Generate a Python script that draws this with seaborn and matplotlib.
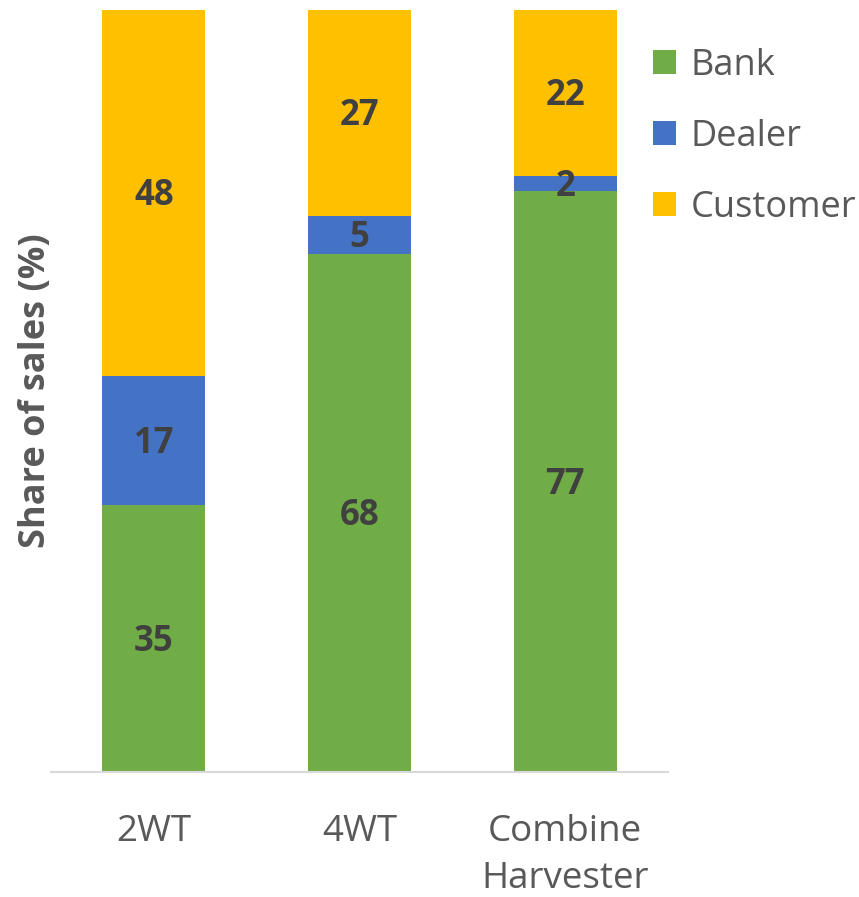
import matplotlib
matplotlib.use("Agg")
import matplotlib.pyplot as plt
import seaborn as sns
import numpy as np

categories = ["2WT", "4WT", "Combine\nHarvester"]
series_names = ["Bank", "Dealer", "Customer"]
# segment heights
bank = [35, 68, 76.2]
dealer = [17, 5, 2.0]
customer = [48, 27, 21.8]
# data labels as printed on the chart
bank_labels = ["35", "68", "77"]
dealer_labels = ["17", "5", "2"]
customer_labels = ["48", "27", "22"]
colors = ["#70AD47", "#4472C4", "#FFC000"]

sns.set_theme(style="white")
plt.rcParams['font.family'] = ['Open Sans', 'DejaVu Sans']

fig = plt.figure(figsize=(8.59, 8.97), dpi=100)
ax = fig.add_axes([51/859, 1-772/897, 617/859, 762/897])

LABEL_FS = 25
vals = [bank, dealer, customer]
labels = [bank_labels, dealer_labels, customer_labels]
bottom = np.zeros(len(categories))
for name, v, labs, c in zip(series_names, vals, labels, colors):
    ax.bar(categories, v, bottom=bottom, width=0.5, color=c, label=name,
           linewidth=0, edgecolor="none", zorder=2)
    for i, (val, b, t) in enumerate(zip(v, bottom, labs)):
        top = min(b + val, 100)
        ax.annotate(t, xy=(i, (b + top) / 2), xytext=(0, -LABEL_FS * 0.714 / 2),
                    textcoords="offset points", ha="center", va="baseline",
                    fontsize=LABEL_FS, fontweight="bold", color="#404040", zorder=3)
    bottom = bottom + np.array(v)

ax.set_ylim(0, 100)
ax.set_xlim(-0.5, 2.5)
ax.set_yticks([])
for s in ["top", "right", "left"]:
    ax.spines[s].set_visible(False)
ax.spines["bottom"].set_color("#D9D9D9")
ax.spines["bottom"].set_linewidth(1.5)
ax.tick_params(axis="x", length=0, pad=30, labelsize=26.5, labelcolor="#595959")
for lab in ax.get_xticklabels():
    lab.set_linespacing(1.42)
ax.set_ylabel("Share of sales (%)", fontsize=26, fontweight="bold", color="#595959", labelpad=-2.5)
ax.set_xlabel("")

leg = ax.legend(loc="upper left", bbox_to_anchor=(653/859, 1-48/897),
                bbox_transform=fig.transFigure, frameon=False,
                fontsize=26, labelcolor="#595959", handlelength=0.65, handleheight=0.65,
                labelspacing=0.97, handletextpad=0.4, borderaxespad=0.0, borderpad=0.0)

fig.savefig("out.png", dpi=100)
